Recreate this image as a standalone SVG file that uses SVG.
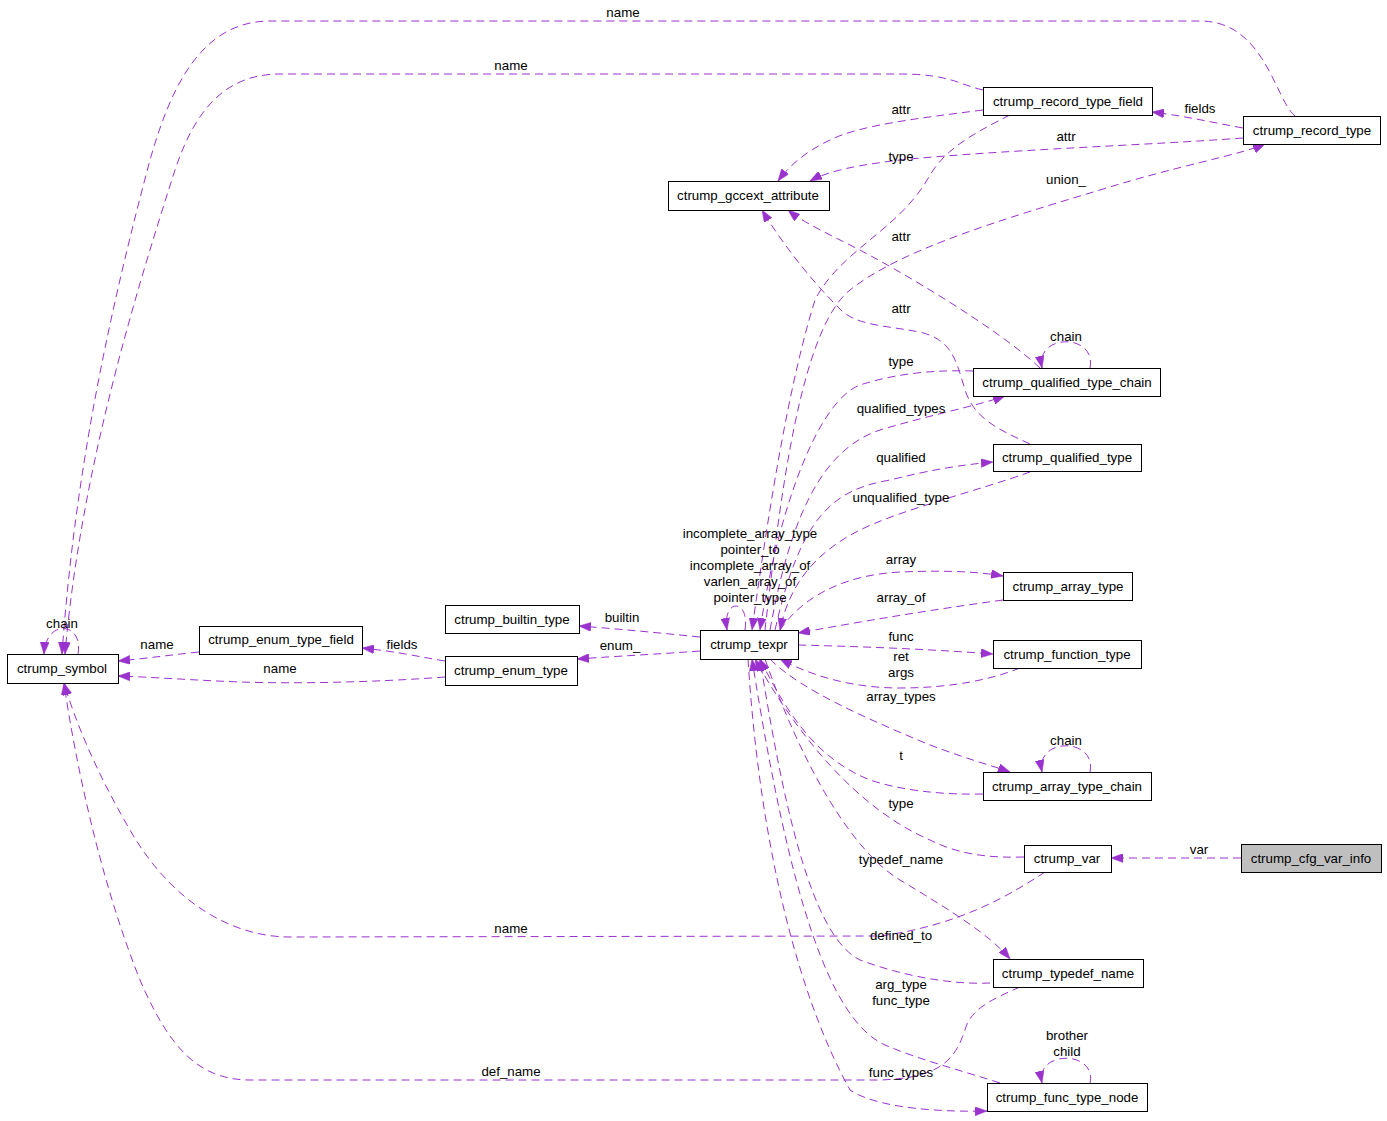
<svg xmlns="http://www.w3.org/2000/svg" width="1387" height="1121" viewBox="0 0 1387 1121">
<defs>
<style>
.n rect{fill:#ffffff;stroke:#000000;stroke-width:1}
.n.hl rect{fill:#bfbfbf}
text{font-family:"Liberation Sans",Arial,sans-serif;font-size:13.3px;fill:#000000;text-anchor:middle}
.e path{fill:none;stroke:#9a32cd;stroke-width:1;stroke-dasharray:8,5}
.e path.a{marker-end:url(#ah)}
</style>
<marker id="ah" viewBox="0 0 12 9" refX="12" refY="4.5" markerWidth="12" markerHeight="9" markerUnits="userSpaceOnUse" orient="auto">
<path d="M0,0 L12,4.5 L0,9 z" fill="#9a32cd" stroke="#9a32cd" stroke-width="0.5"/>
</marker>
</defs>
<rect width="1387" height="1121" fill="#ffffff"/>
<g id="edges" class="e">
<path class="a" d="M1295,116 C1275,100 1265,21 1200,21 L270,21 C200,21 170,90 150,160 C110,310 75,470 62,654"/>
<path class="a" d="M983,90 C960,85 950,74 900,74 L280,74 C225,74 195,110 175,170 C130,310 80,480 65,654"/>
<path class="a" d="M78,654 C84,622 46,618 44,654"/>
<path class="a" d="M1243,128 C1210,122 1185,116 1152,112"/>
<path class="a" d="M199,652 C170,655 150,658 118,661"/>
<path class="a" d="M445,661 C420,657 400,652 362,648"/>
<path class="a" d="M445,677 C380,682 300,684 240,682 C190,680 150,677 118,676"/>
<path class="a" d="M700,637 C660,633 620,629 579,626"/>
<path class="a" d="M700,651 C660,654 620,656 577,659"/>
<path class="a" d="M983,110 C920,118 860,125 830,140 C805,152 790,165 778,181"/>
<path class="a" d="M1243,138 C1150,145 1000,150 900,160 C860,165 830,170 810,181"/>
<path class="a" d="M1010,115 C970,135 945,150 930,175 C900,230 840,250 815,300 C790,380 770,500 752,630"/>
<path class="a" d="M765,630 C780,500 800,330 850,290 C900,250 1000,220 1100,190 C1180,165 1240,155 1265,144"/>
<path class="a" d="M1040,368 C1000,330 900,270 850,245 C820,230 800,220 788,210"/>
<path class="a" d="M1030,444 C1000,430 975,420 965,390 C955,355 950,340 920,332 C880,325 860,325 843,312 C810,280 780,240 762,210"/>
<path class="a" d="M1090,368 C1097,333 1035,333 1042,368"/>
<path class="a" d="M973,371 C940,370 900,372 860,385 C820,400 780,500 760,630"/>
<path class="a" d="M770,630 C790,520 820,450 880,430 C930,415 980,405 1005,396"/>
<path class="a" d="M775,630 C800,520 830,490 890,480 C930,470 960,465 993,462"/>
<path class="a" d="M1030,472 C980,490 900,510 860,530 C820,550 790,580 780,630"/>
<path class="a" d="M780,630 C800,600 840,575 900,572 C950,570 980,572 1003,576"/>
<path class="a" d="M1003,600 C930,610 870,620 798,633"/>
<path class="a" d="M798,645 C880,647 940,650 993,654"/>
<path class="a" d="M1020,668 C990,680 950,688 900,688 C850,688 810,675 780,659"/>
<path class="a" d="M770,659 C800,690 870,720 930,745 C970,760 990,765 1010,772"/>
<path class="a" d="M1090,772 C1097,737 1035,737 1042,772"/>
<path class="a" d="M983,794 C940,795 900,790 870,780 C820,760 790,720 760,659"/>
<path class="a" d="M1024,857 C990,858 960,855 930,840 C860,810 800,740 755,659"/>
<path class="a" d="M1241,858 L1111,858"/>
<path class="a" d="M1045,872 C1010,895 960,925 880,936 L290,937 C230,937 170,900 130,830 C95,770 75,720 64,683"/>
<path class="a" d="M765,659 C800,760 850,850 900,880 C950,910 990,935 1010,959"/>
<path class="a" d="M990,983 C950,985 900,975 860,960 C820,940 790,850 760,659"/>
<path class="a" d="M1020,987 C990,1000 970,1010 965,1030 C955,1060 940,1078 880,1080 L250,1080 C200,1080 170,1050 140,980 C100,880 75,760 64,683"/>
<path class="a" d="M1000,1083 C960,1070 920,1060 885,1045 C830,1020 790,900 752,659"/>
<path class="a" d="M748,659 C760,850 800,1000 850,1090 C880,1110 950,1112 987,1111"/>
<path class="a" d="M1090,1083 C1097,1050 1035,1050 1042,1083"/>
<path class="a" d="M745,630 C750,598 722,598 727,630"/>
</g>
<g id="edge-labels">
<text x="623" y="17">name</text>
<text x="511" y="70">name</text>
<text x="62" y="628">chain</text>
<text x="157" y="649">name</text>
<text x="402" y="649">fields</text>
<text x="280" y="673">name</text>
<text x="622" y="622">builtin</text>
<text x="620" y="650">enum_</text>
<text x="901" y="114">attr</text>
<text x="1200" y="113">fields</text>
<text x="1066" y="141">attr</text>
<text x="901" y="161">type</text>
<text x="1066" y="184">union_</text>
<text x="901" y="241">attr</text>
<text x="901" y="313">attr</text>
<text x="1066" y="341">chain</text>
<text x="901" y="366">type</text>
<text x="901" y="413">qualified_types</text>
<text x="901" y="462">qualified</text>
<text x="901" y="502">unqualified_type</text>
<text x="750" y="538">incomplete_array_type</text>
<text x="750" y="554">pointer_to</text>
<text x="750" y="570">incomplete_array_of</text>
<text x="750" y="586">varlen_array_of</text>
<text x="750" y="602">pointer_type</text>
<text x="901" y="564">array</text>
<text x="901" y="602">array_of</text>
<text x="901" y="641">func</text>
<text x="901" y="661">ret</text>
<text x="901" y="677">args</text>
<text x="901" y="701">array_types</text>
<text x="1066" y="745">chain</text>
<text x="901" y="760">t</text>
<text x="901" y="808">type</text>
<text x="1199" y="854">var</text>
<text x="901" y="864">typedef_name</text>
<text x="511" y="933">name</text>
<text x="901" y="940">defined_to</text>
<text x="901" y="989">arg_type</text>
<text x="901" y="1005">func_type</text>
<text x="1067" y="1040">brother</text>
<text x="1067" y="1056">child</text>
<text x="511" y="1076">def_name</text>
<text x="901" y="1077">func_types</text>
</g>
<g id="ctrump_symbol" class="n"><rect x="7.5" y="654.5" width="111" height="29"/><text x="62" y="673">ctrump_symbol</text></g>
<g id="ctrump_enum_type_field" class="n"><rect x="199.5" y="626.5" width="163" height="28"/><text x="281" y="644">ctrump_enum_type_field</text></g>
<g id="ctrump_builtin_type" class="n"><rect x="445.5" y="605.5" width="134" height="28"/><text x="512" y="624">ctrump_builtin_type</text></g>
<g id="ctrump_enum_type" class="n"><rect x="445.5" y="656.5" width="132" height="29"/><text x="511" y="675">ctrump_enum_type</text></g>
<g id="ctrump_texpr" class="n"><rect x="700.5" y="630.5" width="98" height="29"/><text x="749" y="649">ctrump_texpr</text></g>
<g id="ctrump_gccext_attribute" class="n"><rect x="668.5" y="181.5" width="161" height="29"/><text x="748" y="200">ctrump_gccext_attribute</text></g>
<g id="ctrump_record_type_field" class="n"><rect x="983.5" y="87.5" width="169" height="28"/><text x="1068" y="106">ctrump_record_type_field</text></g>
<g id="ctrump_record_type" class="n"><rect x="1243.5" y="116.5" width="137" height="28"/><text x="1312" y="135">ctrump_record_type</text></g>
<g id="ctrump_qualified_type_chain" class="n"><rect x="973.5" y="368.5" width="187" height="28"/><text x="1067" y="387">ctrump_qualified_type_chain</text></g>
<g id="ctrump_qualified_type" class="n"><rect x="993.5" y="444.5" width="148" height="27"/><text x="1067" y="462">ctrump_qualified_type</text></g>
<g id="ctrump_array_type" class="n"><rect x="1003.5" y="572.5" width="129" height="28"/><text x="1068" y="591">ctrump_array_type</text></g>
<g id="ctrump_function_type" class="n"><rect x="993.5" y="640.5" width="148" height="28"/><text x="1067" y="659">ctrump_function_type</text></g>
<g id="ctrump_array_type_chain" class="n"><rect x="983.5" y="772.5" width="168" height="28"/><text x="1067" y="791">ctrump_array_type_chain</text></g>
<g id="ctrump_var" class="n"><rect x="1024.5" y="845.5" width="87" height="27"/><text x="1067" y="863">ctrump_var</text></g>
<g id="ctrump_cfg_var_info" class="n hl"><rect x="1241.5" y="844.5" width="140" height="28"/><text x="1311" y="863">ctrump_cfg_var_info</text></g>
<g id="ctrump_typedef_name" class="n"><rect x="993.5" y="959.5" width="150" height="28"/><text x="1068" y="978">ctrump_typedef_name</text></g>
<g id="ctrump_func_type_node" class="n"><rect x="987.5" y="1083.5" width="160" height="28"/><text x="1067" y="1102">ctrump_func_type_node</text></g>
</svg>
